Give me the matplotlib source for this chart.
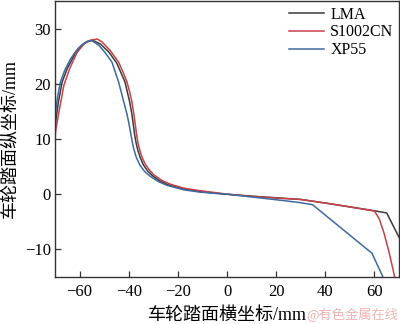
import matplotlib
matplotlib.use("Agg")
from matplotlib import pyplot as plt

# LMA
lma_x = [-70, -69.5, -68.5, -67.1, -65, -62, -59, -56.5, -54.8, -51.5, -48, -44.8,
         -41.5, -39.6, -38.7, -38.1, -37.6, -37, -36.3, -35.3, -34, -32.3, -30.2,
         -27.3, -24, -17.6, -11.4, -5, 0,
         10, 20, 30, 40, 50, 60, 65, 67.5, 70]
lma_y = [11.5, 14, 17, 20.3, 22.8, 25.3, 27, 27.7, 27.9, 27.2, 25.7, 23.7,
         20.3, 16.7, 14.5, 12.5, 10.8, 9.3, 8.0, 6.6, 5.3, 4.2, 3.3,
         2.4, 1.7, 0.95, 0.5, 0.2, 0,
         -0.35, -0.65, -0.95, -1.6, -2.3, -3.0, -3.4, -5.6, -7.8]

# S1002CN
s1002_x = [-70, -69.8, -68.4, -66.4, -64, -61, -58, -55.5, -52.8, -50.9, -47.5,
           -44.1, -42.2, -40.7, -39.6, -38.7, -37.9, -37.3, -36.8, -36.2, -35.4,
           -34.4, -33.2, -31.8, -29.8, -26.5, -23, -17.6, -11.4, -5, 0,
           10, 20, 30, 40, 50, 60, 62, 64, 66, 67.5, 68.5]
s1002_y = [9, 11.3, 14.9, 19.7, 22.8, 25.7, 27.3, 27.9, 28.1, 27.6, 26,
           23.9, 22, 20.3, 18.5, 16.7, 14.5, 12.5, 10.8, 9.2, 7.8,
           6.5, 5.4, 4.5, 3.5, 2.5, 1.8, 1.1, 0.66, 0.3, 0,
           -0.4, -0.7, -0.95, -1.6, -2.3, -3.05, -4.5, -7.2, -10.6, -13.5, -15.6]

# XP55
xp55_x = [-70, -69.8, -69, -67.8, -66, -63.7, -61, -59, -56.9, -55, -52.2, -49.5,
          -46.8, -44.1, -42, -40.7, -40, -39.3, -38.6, -38, -37, -35.5, -33.5,
          -31.1, -28, -24.4, -17.6, -11.4, -5, 0,
          10, 20, 29.4, 34.8, 45, 59, 64.1]
xp55_y = [14, 14.9, 17.5, 20.3, 22.5, 24.5, 26.2, 27.1, 27.7, 27.8, 27.0, 25.6,
          23.9, 20.3, 16.7, 14.5, 13, 11.3, 9.6, 8.3, 6.8, 5.3, 4.1,
          3.2, 2.3, 1.6, 0.8, 0.4, 0.15, 0,
          -0.5, -1.0, -1.5, -1.9, -5.6, -10.7, -15.6]

xticks = [-60, -40, -20, 0, 20, 40, 60]
yticks = [-10, 0, 10, 20, 30]

serif = ['Liberation Serif', 'Noto Sans CJK SC']

fig = plt.figure(figsize=(4, 3.24), dpi=100)
ax = fig.add_axes([0.1375, 0.145, 0.86, 0.852])

ax.plot(lma_x, lma_y, color='#3a3a3a', lw=1.1, label='LMA')
ax.plot(s1002_x, s1002_y, color='#c8404a', lw=1.1, label='S1002CN')
ax.plot(xp55_x, xp55_y, color='#3d6a9e', lw=1.1, label='XP55')

ax.set_xlim(-70, 70)
ax.set_ylim(-15, 35)
ax.set_xticks(xticks)
ax.set_yticks(yticks)
ax.set_xticklabels(['\u2212' + str(-t) if t < 0 else str(t) for t in xticks],
                   family=serif, fontsize=12)
ax.set_yticklabels(['\u2212' + str(-t) if t < 0 else str(t) for t in yticks],
                   family=serif, fontsize=12)
ax.tick_params(direction='in', length=4, width=0.9, colors='#333333', labelcolor='black')
ax.tick_params(axis='x', pad=5)
ax.tick_params(axis='y', pad=3)
for s in ax.spines.values():
    s.set_color('#333333')
    s.set_linewidth(1.0)

ax.set_xlabel('车轮踏面横坐标/mm', family=serif, fontsize=13, labelpad=5)
ax.set_ylabel('车轮踏面纵坐标/mm', family=serif, fontsize=13, labelpad=3.5)

ax.legend(loc='upper right', frameon=False, prop={'family': serif, 'size': 11.5},
          handlelength=2.2, handletextpad=0.4, labelspacing=0.12,
          borderaxespad=0.1, borderpad=0.25)

fig.text(0.995, 0.005, '@有色金属在线', color='#f0b4b4', fontsize=9.5,
         family=['Noto Sans CJK SC', 'DejaVu Sans'], ha='right', va='bottom')

fig.savefig('out.png', dpi=100)
